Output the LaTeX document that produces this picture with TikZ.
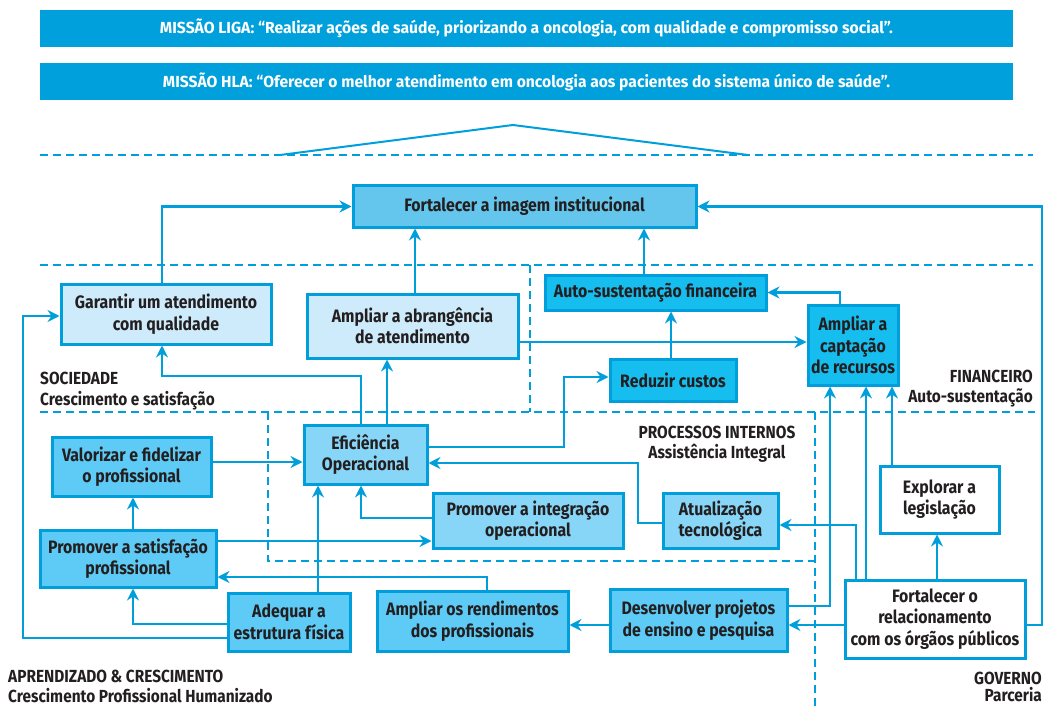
\documentclass[tikz,border=0pt]{standalone}
\usepackage{fontspec}
\setmainfont{Fira Sans}[FakeStretch=0.88]
\usetikzlibrary{arrows.meta}
\definecolor{ln}{RGB}{0,158,219}
\definecolor{bann}{RGB}{0,160,220}
\definecolor{lite}{RGB}{205,235,250}
\definecolor{imgc}{RGB}{100,198,237}
\definecolor{acc}{RGB}{93,203,245}
\definecolor{proc}{RGB}{135,213,247}
\definecolor{fin}{RGB}{22,189,239}
\definecolor{txt}{RGB}{35,31,32}
\tikzset{
  box/.style={draw=ln, line width=3pt, inner sep=0pt, align=center,
    font=\fontsize{18}{21.5}\selectfont\bfseries, text=txt},
  banner/.style={fill=bann, inner sep=0pt, minimum width=973pt, minimum height=37pt,
    font=\fontsize{16}{19}\selectfont\bfseries, text=white},
  arr/.style={draw=ln, line width=2.8pt, -{Stealth[length=12pt,width=12pt,inset=4pt]}},
  dsh/.style={draw=ln, line width=2.4pt, dash pattern=on 8pt off 5pt},
  lab/.style={inner sep=0pt, font=\fontsize{17.5}{20}\selectfont\bfseries, text=txt}
}
\begin{document}
\begin{tikzpicture}[x=1pt,y=-1pt]
\useasboundingbox (0,0) rectangle (1045,706);

% banners
\node[banner] (m1) at (526.5,28.5) {\resizebox{733pt}{\height}{MISSÃO LIGA: “Realizar ações de saúde, priorizando a oncologia, com qualidade e compromisso social”.}};
\node[banner] (m2) at (526.5,81.5) {\resizebox{727pt}{\height}{MISSÃO HLA: “Oferecer o melhor atendimento em oncologia aos pacientes do sistema único de saúde”.}};

% dashed separators
\draw[dsh] (40,155) -- (1033,155);
\draw[dsh] (40,265) -- (1033,265);
\draw[dsh] (40,412) -- (1035,412);
\draw[dsh] (530,265) -- (530,412);
\draw[dsh] (268,412) -- (268,561) -- (815,561);
\draw[dsh] (815,412) -- (815,706);
\draw[draw=ln, line width=2pt] (280,155) -- (513,125) -- (748,155);

% boxes
\node[box, fill=imgc, minimum width=343pt, minimum height=41pt] (imagem) at (524.5,206.5) {Fortalecer a imagem institucional};
\node[box, fill=lite, minimum width=210pt, minimum height=60pt] (garantir) at (166,314) {Garantir um atendimento\\com qualidade};
\node[box, fill=lite, minimum width=211pt, minimum height=64pt] (abrang) at (412.5,326) {Ampliar a abrangência\\de atendimento};
\node[box, fill=fin, minimum width=221pt, minimum height=35pt] (autosust) at (655.5,292.5) {Auto-sustentação financeira};
\node[box, fill=fin, minimum width=90pt, minimum height=80pt] (captacao) at (853,345) {Ampliar a\\captação\\de recursos};
\node[box, fill=fin, minimum width=126pt, minimum height=42pt] (reduzir) at (673,380) {Reduzir custos};
\node[box, fill=proc, minimum width=123pt, minimum height=59pt] (eficiencia) at (365.5,454.5) {Eficiência\\Operacional};
\node[box, fill=acc, minimum width=159pt, minimum height=59pt] (valorizar) at (131.5,466.5) {Valorizar e fidelizar\\o profissional};
\node[box, fill=proc, minimum width=190pt, minimum height=55pt] (integracao) at (528,520.5) {Promover a integração\\operacional};
\node[box, fill=proc, minimum width=115pt, minimum height=55pt] (atualizacao) at (720.5,520.5) {Atualização\\tecnológica};
\node[box, fill=acc, minimum width=176pt, minimum height=57pt] (satisfacao) at (128,558.5) {Promover a satisfação\\profissional};
\node[box, fill=acc, minimum width=122pt, minimum height=58pt] (adequar) at (289,622) {Adequar a\\estrutura física};
\node[box, fill=acc, minimum width=191pt, minimum height=60pt] (rendimentos) at (472.5,621) {Ampliar os rendimentos\\dos profissionais};
\node[box, fill=acc, minimum width=177pt, minimum height=62pt] (desenvolver) at (698.5,620) {Desenvolver projetos\\de ensino e pesquisa};
\node[box, fill=white, minimum width=119pt, minimum height=67pt] (explorar) at (939.5,499.5) {Explorar a\\legislação};
\node[box, fill=white, minimum width=180pt, minimum height=78pt] (relac) at (935,619) {Fortalecer o\\relacionamento\\com os órgãos públicos};

% perspective labels
\node[lab, anchor=base west] (soc1) at (40,384) {SOCIEDADE};
\node[lab, anchor=base west] (soc2) at (40,405) {Crescimento e satisfação};
\node[lab, anchor=base east] (fin1) at (1033,382) {FINANCEIRO};
\node[lab, anchor=base east] (fin2) at (1033,402) {Auto-sustentação};
\node[lab, anchor=base] (pro1) at (717,438) {PROCESSOS INTERNOS};
\node[lab, anchor=base] (pro2) at (717,458) {Assistência Integral};
\node[lab, anchor=base west] (apr1) at (8,682) {APRENDIZADO \& CRESCIMENTO};
\node[lab, anchor=base west] (apr2) at (8,702) {Crescimento Profissional Humanizado};
\node[lab, anchor=base east] (gov1) at (1042,684) {GOVERNO};
\node[lab, anchor=base east] (gov2) at (1042,701) {Parceria};

% connectors
\draw[arr] ([xshift=-4pt]garantir.north) |- (imagem.west);
\draw[arr] ([xshift=2.5pt]abrang.north) -- ([xshift=-109.5pt]imagem.south);
\draw[arr] ([xshift=-11.5pt]autosust.north) -- ([xshift=119.5pt]imagem.south);
\draw[arr] ([yshift=-6pt]relac.east) -- (1042,625) -- (1042,206.5) -- (imagem.east);
\draw[arr] ([xshift=-13pt]captacao.north) |- (autosust.east);
\draw[arr] ([yshift=-16pt]abrang.east) -- ([yshift=3pt]captacao.west);
\draw[arr] ([xshift=-2pt]reduzir.north) -- ([xshift=15.5pt]autosust.south);
\draw[arr] ([yshift=7.5pt]eficiencia.east) -- (564,447) -- (564,377) -- ([yshift=3pt]reduzir.west);
\draw[arr] ([xshift=-4.5pt]eficiencia.north) -- (361,376) -- (162,376) -- ([xshift=-4pt]garantir.south);
\draw[arr] ([xshift=21.5pt]eficiencia.north) -- ([xshift=-25.5pt]abrang.south);
\draw[arr] ([yshift=4.5pt]valorizar.east) -- ([yshift=-7.5pt]eficiencia.west);
\draw[arr] ([yshift=-2.5pt]atualizacao.west) -- (638,523) -- (638,463) -- ([yshift=-8.5pt]eficiencia.east);
\draw[arr] ([yshift=2.5pt]integracao.west) -- (361,518) -- ([xshift=-4.5pt]eficiencia.south);
\draw[arr] ([yshift=17.5pt]satisfacao.east) -- ([yshift=-20.5pt]integracao.west);
\draw[arr] ([xshift=5pt]satisfacao.north) -- ([xshift=1.5pt]valorizar.south);
\draw[arr] ([xshift=14.5pt]rendimentos.north) -- (487,577) -- ([yshift=-18.5pt]satisfacao.east);
\draw[arr] ([yshift=-2pt]adequar.west) -- (133,624) -- ([xshift=5pt]satisfacao.south);
\draw[arr] ([yshift=-16pt]adequar.west) -- (23,638) -- (23,316) -- ([yshift=-2pt]garantir.west);
\draw[arr] ([xshift=29pt]adequar.north) -- ([xshift=-47.5pt]eficiencia.south);
\draw[arr] ([yshift=-5pt]desenvolver.west) -- ([yshift=-4pt]rendimentos.east);
\draw[arr] ([yshift=-6pt]relac.west) -- ([yshift=-5pt]desenvolver.east);
\draw[arr] ([yshift=14pt]desenvolver.east) -- (830,606) -- ([xshift=-23pt]captacao.south);
\draw[arr] ([xshift=-79pt]relac.north) -- (856,525) -- ([yshift=-4.5pt]atualizacao.east);
\draw[arr] ([xshift=-69pt]relac.north) -- ([xshift=13pt]captacao.south);
\draw[arr] ([xshift=-47.5pt]explorar.north) -- ([xshift=39pt]captacao.south);
\draw[arr] ([xshift=2pt]relac.north) -- ([xshift=-2.5pt]explorar.south);
\end{tikzpicture}
\end{document}
